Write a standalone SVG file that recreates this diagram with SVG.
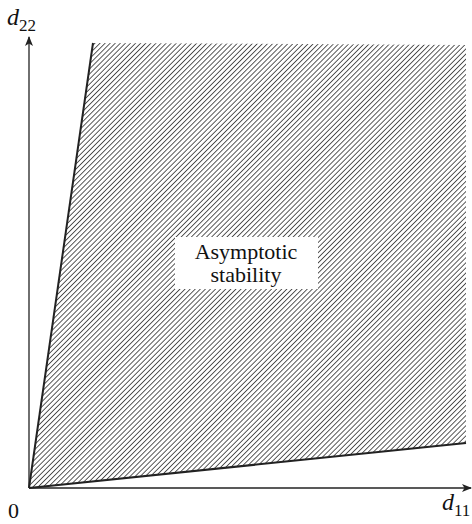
<svg xmlns="http://www.w3.org/2000/svg" width="472" height="524" viewBox="0 0 472 524">
<style>
text{font-family:'Liberation Serif','DejaVu Serif','Times New Roman',serif;fill:#111}
.ax{stroke:#222;stroke-width:1.3;fill:none}
.edge{stroke:#222;stroke-width:2;fill:none}
</style>
<defs>
<pattern id="hatch" patternUnits="userSpaceOnUse" width="3.6" height="3.6" patternTransform="rotate(45)">
<line x1="0" y1="0" x2="0" y2="3.6" stroke="#222" stroke-width="1.5"/>
</pattern>
<marker id="arr" viewBox="0 0 10 10" refX="9" refY="5" markerWidth="10" markerHeight="10" markerUnits="userSpaceOnUse" orient="auto">
<path d="M0,1 L10,5 L0,9 L2.5,5 Z" fill="#222"/>
</marker>
</defs>
<g id="region">
<polygon points="29,488 93,43 466,45 466,443" fill="url(#hatch)"/>
</g>
<g id="connectors">
<line class="ax" x1="29" y1="488" x2="29" y2="37" marker-end="url(#arr)"/>
<line class="ax" x1="29" y1="488" x2="471" y2="488" marker-end="url(#arr)"/>
<line class="edge" x1="29" y1="488" x2="93" y2="43"/>
<line class="edge" x1="29" y1="488" x2="466" y2="443"/>
</g>
<g id="label">
<rect x="175" y="237" width="143" height="52" fill="#fff"/>
<text x="246" y="259" font-size="22" text-anchor="middle">Asymptotic</text>
<text x="246" y="282" font-size="22" text-anchor="middle">stability</text>
</g>
<g id="axis-labels">
<text x="7" y="25" font-size="24" font-style="italic">d<tspan font-size="17" font-style="normal" dy="6">22</tspan></text>
<text x="8" y="518" font-size="22">0</text>
<text x="442" y="510" font-size="24" font-style="italic">d<tspan font-size="17" font-style="normal" dy="6">11</tspan></text>
</g>
</svg>
